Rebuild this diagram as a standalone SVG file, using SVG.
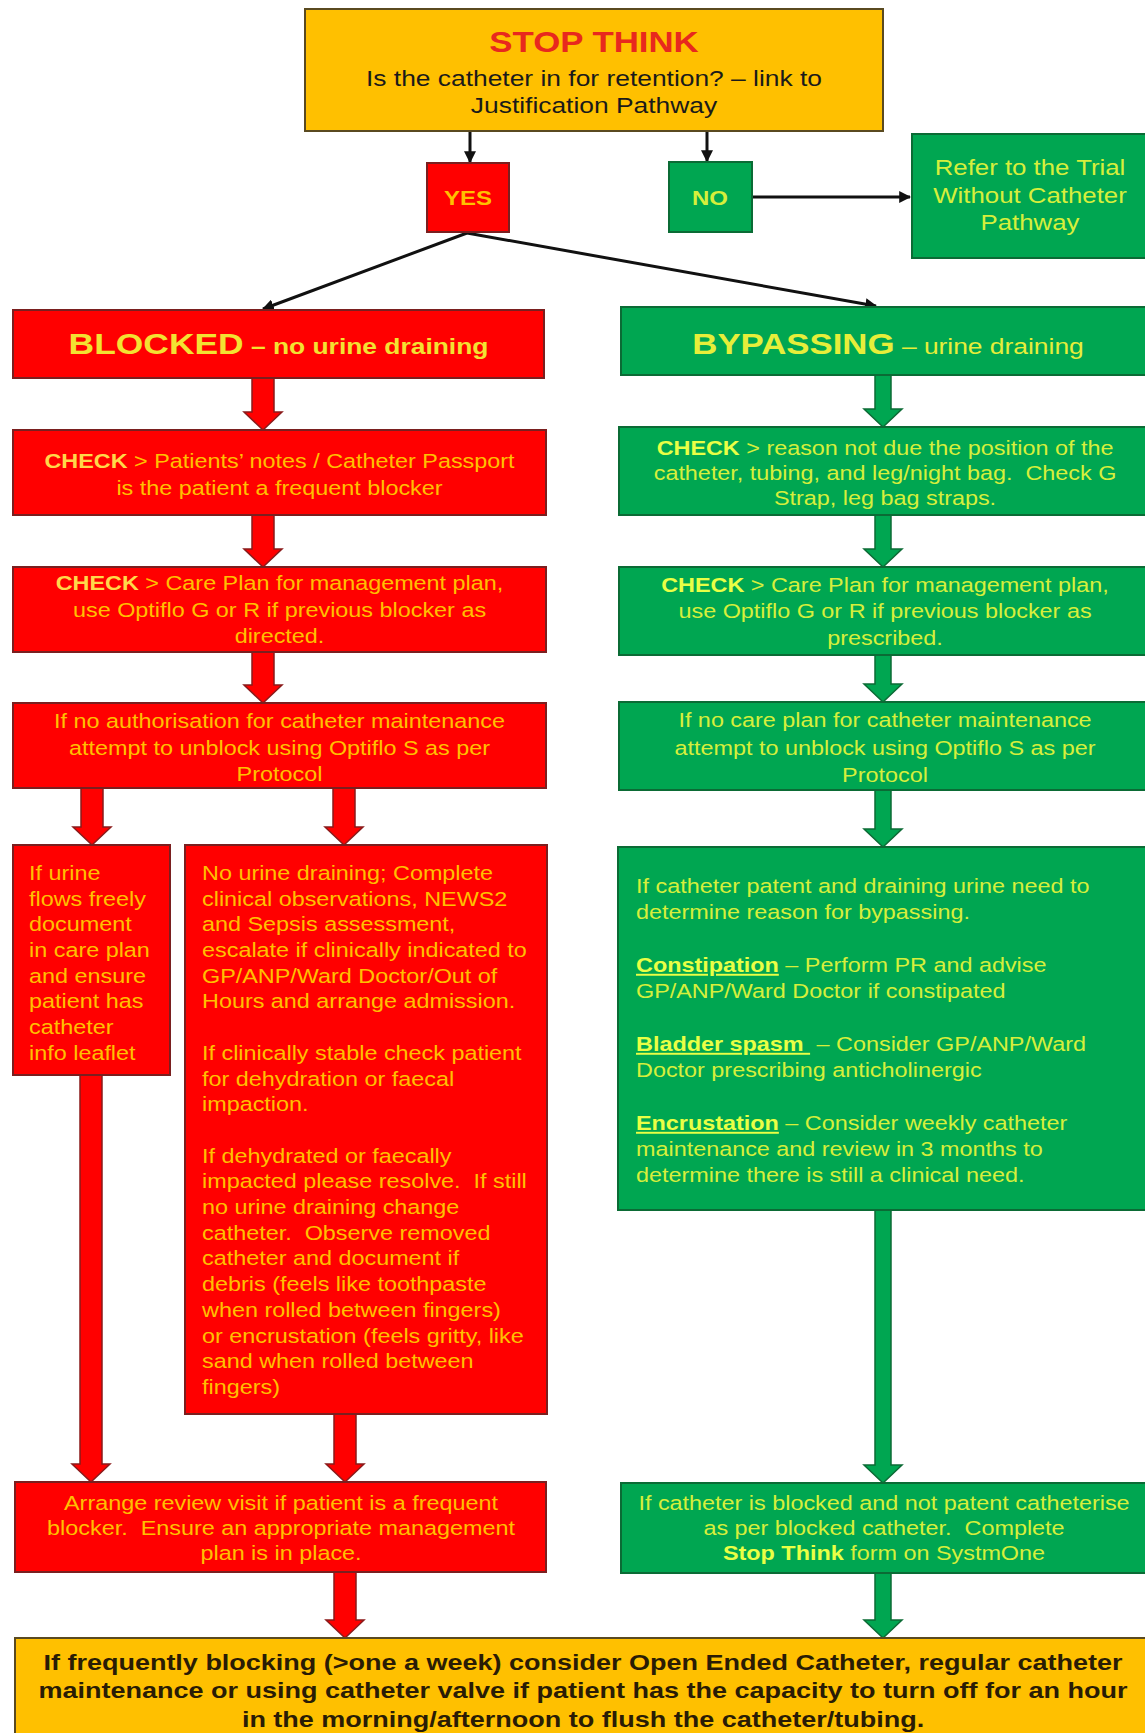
<svg xmlns="http://www.w3.org/2000/svg" width="1145" height="1733" viewBox="0 0 1145 1733">
  <style>
    text { font-family: "Liberation Sans", Arial, sans-serif; }
    .body { font-size: 19.5px; }
    .red { fill: #FF0000; stroke: #7A1F1F; stroke-width: 2; }
    .green { fill: #00A651; stroke: #0B6B35; stroke-width: 2; }
    .amber { fill: #FFC000; stroke: #5A4A20; stroke-width: 2; }
    .onred { fill: #FFC000; }
    .onred .k { fill: #FFD84A; font-weight: bold; }
    .ongreen { fill: #D6EF3C; }
    .ongreen .k { fill: #E9FF45; font-weight: bold; }
    .u { text-decoration: underline; }
    .dark { fill: #2A1C05; }
    .thin { stroke: #111; stroke-width: 3; fill: none; marker-end: url(#tip); }
    .barR { fill: #FF0000; stroke: #8A1A1A; stroke-width: 1.5; }
    .barG { fill: #00A651; stroke: #0B6B35; stroke-width: 1.5; }
  </style>
  <defs>
    <marker id="tip" viewBox="0 0 10 10" refX="9" refY="5" markerWidth="4" markerHeight="4" orient="auto">
      <path d="M0,0 L10,5 L0,10 z" fill="#111"/>
    </marker>
  </defs>
  <rect width="1145" height="1733" fill="#FFFFFF"/>

  <!-- connectors -->
  <g id="connectors">
    <line class="thin" x1="470" y1="131" x2="470" y2="162"/>
    <line class="thin" x1="707" y1="131" x2="707" y2="161"/>
    <line class="thin" x1="752" y1="197" x2="910" y2="197"/>
    <line class="thin" x1="467" y1="233" x2="263" y2="309"/>
    <line class="thin" x1="467" y1="233" x2="876" y2="306"/>
    <!-- red column block arrows -->
    <polygon class="barR" points="252,378 274,378 274,412 282,412 263,430 244,412 252,412"/>
    <polygon class="barR" points="252,515 274,515 274,549 282,549 263,567 244,549 252,549"/>
    <polygon class="barR" points="252,652 274,652 274,685 282,685 263,703 244,685 252,685"/>
    <polygon class="barR" points="81,788 103,788 103,827 111,827 92,845 73,827 81,827"/>
    <polygon class="barR" points="333,788 355,788 355,827 363,827 344,845 325,827 333,827"/>
    <polygon class="barR" points="80,1075 102,1075 102,1464 110,1464 91,1482 72,1464 80,1464"/>
    <polygon class="barR" points="334,1414 356,1414 356,1464 364,1464 345,1482 326,1464 334,1464"/>
    <polygon class="barR" points="334,1572 356,1572 356,1620 364,1620 345,1638 326,1620 334,1620"/>
    <!-- green column block arrows -->
    <polygon class="barG" points="875,375 891,375 891,409 902,409 883,427 864,409 875,409"/>
    <polygon class="barG" points="875,515 891,515 891,549 902,549 883,567 864,549 875,549"/>
    <polygon class="barG" points="875,655 891,655 891,684 902,684 883,702 864,684 875,684"/>
    <polygon class="barG" points="875,790 891,790 891,829 902,829 883,847 864,829 875,829"/>
    <polygon class="barG" points="875,1210 891,1210 891,1465 902,1465 883,1483 864,1465 875,1465"/>
    <polygon class="barG" points="875,1573 891,1573 891,1620 902,1620 883,1638 864,1620 875,1620"/>
  </g>

  <!-- question -->
  <g id="stop-think">
    <rect class="amber" x="305" y="9" width="578" height="122"/>
    <g transform="translate(594 0) scale(1.2 1)">
      <text x="0" y="52" text-anchor="middle" font-size="29" font-weight="bold" fill="#E8281E">STOP THINK</text>
      <text text-anchor="middle" font-size="22" fill="#1A1A1A"><tspan x="0" y="86">Is the catheter in for retention? – link to</tspan><tspan x="0" y="113">Justification Pathway</tspan></text>
    </g>
  </g>

  <g id="yes">
    <rect class="red" x="427" y="163" width="82" height="69"/>
    <g transform="translate(468 0) scale(1.2 1)">
      <text x="0" y="205" text-anchor="middle" font-size="20" font-weight="bold" fill="#FFC000">YES</text>
    </g>
  </g>

  <g id="no">
    <rect class="green" x="669" y="162" width="83" height="70"/>
    <g transform="translate(710 0) scale(1.2 1)">
      <text x="0" y="205" text-anchor="middle" font-size="20" font-weight="bold" fill="#D6EF3C">NO</text>
    </g>
  </g>

  <g id="trial-without-catheter">
    <rect class="green" x="912" y="134" width="240" height="124"/>
    <g transform="translate(1030 0) scale(1.2 1)">
      <text text-anchor="middle" font-size="21.5" fill="#D6EF3C"><tspan x="0" y="175">Refer to the Trial</tspan><tspan x="0" y="203">Without Catheter</tspan><tspan x="0" y="230">Pathway</tspan></text>
    </g>
  </g>

  <!-- blocked branch -->
  <g id="blocked">
    <rect class="red" x="13" y="310" width="531" height="68"/>
    <g transform="translate(278.5 0) scale(1.2 1)">
      <text x="0" y="354" text-anchor="middle" font-weight="bold" fill="#F3E232"><tspan font-size="29.5">BLOCKED</tspan><tspan font-size="22"> – no urine draining</tspan></text>
    </g>
  </g>

  <g id="blocked-check-passport">
    <rect class="red" x="13" y="430" width="533" height="85"/>
    <g transform="translate(279.5 0) scale(1.2 1)">
      <text class="body onred" text-anchor="middle"><tspan x="0" y="468"><tspan class="k">CHECK</tspan> &gt; Patients’ notes / Catheter Passport</tspan><tspan x="0" y="495">is the patient a frequent blocker</tspan></text>
    </g>
  </g>

  <g id="blocked-check-careplan">
    <rect class="red" x="13" y="567" width="533" height="85"/>
    <g transform="translate(279.5 0) scale(1.2 1)">
      <text class="body onred" text-anchor="middle"><tspan x="0" y="590"><tspan class="k">CHECK</tspan> &gt; Care Plan for management plan,</tspan><tspan x="0" y="617">use Optiflo G or R if previous blocker as</tspan><tspan x="0" y="643">directed.</tspan></text>
    </g>
  </g>

  <g id="blocked-unblock">
    <rect class="red" x="13" y="703" width="533" height="85"/>
    <g transform="translate(279.5 0) scale(1.2 1)">
      <text class="body onred" text-anchor="middle"><tspan x="0" y="728">If no authorisation for catheter maintenance</tspan><tspan x="0" y="755">attempt to unblock using Optiflo S as per</tspan><tspan x="0" y="781">Protocol</tspan></text>
    </g>
  </g>

  <g id="blocked-flows">
    <rect class="red" x="13" y="845" width="157" height="230"/>
    <g transform="translate(29 0) scale(1.2 1)">
      <text class="body onred"><tspan x="0" y="880">If urine</tspan><tspan x="0" y="906">flows freely</tspan><tspan x="0" y="931">document</tspan><tspan x="0" y="957">in care plan</tspan><tspan x="0" y="983">and ensure</tspan><tspan x="0" y="1008">patient has</tspan><tspan x="0" y="1034">catheter</tspan><tspan x="0" y="1060">info leaflet</tspan></text>
    </g>
  </g>

  <g id="blocked-no-drain">
    <rect class="red" x="185" y="845" width="362" height="569"/>
    <g transform="translate(202 0) scale(1.2 1)">
      <text class="body onred" xml:space="preserve"><tspan x="0" y="880">No urine draining; Complete</tspan><tspan x="0" y="906">clinical observations, NEWS2</tspan><tspan x="0" y="931">and Sepsis assessment,</tspan><tspan x="0" y="957">escalate if clinically indicated to</tspan><tspan x="0" y="983">GP/ANP/Ward Doctor/Out of</tspan><tspan x="0" y="1008">Hours and arrange admission.</tspan><tspan x="0" y="1060">If clinically stable check patient</tspan><tspan x="0" y="1086">for dehydration or faecal</tspan><tspan x="0" y="1111">impaction.</tspan><tspan x="0" y="1163">If dehydrated or faecally</tspan><tspan x="0" y="1188">impacted please resolve.  If still</tspan><tspan x="0" y="1214">no urine draining change</tspan><tspan x="0" y="1240">catheter.  Observe removed</tspan><tspan x="0" y="1265">catheter and document if</tspan><tspan x="0" y="1291">debris (feels like toothpaste</tspan><tspan x="0" y="1317">when rolled between fingers)</tspan><tspan x="0" y="1343">or encrustation (feels gritty, like</tspan><tspan x="0" y="1368">sand when rolled between</tspan><tspan x="0" y="1394">fingers)</tspan></text>
    </g>
  </g>

  <g id="blocked-review">
    <rect class="red" x="15" y="1482" width="531" height="90"/>
    <g transform="translate(281 0) scale(1.2 1)">
      <text class="body onred" text-anchor="middle" xml:space="preserve"><tspan x="0" y="1510">Arrange review visit if patient is a frequent</tspan><tspan x="0" y="1535">blocker.  Ensure an appropriate management</tspan><tspan x="0" y="1560">plan is in place.</tspan></text>
    </g>
  </g>

  <!-- bypassing branch -->
  <g id="bypassing">
    <rect class="green" x="621" y="307" width="530" height="68"/>
    <g transform="translate(888 0) scale(1.2 1)">
      <text x="0" y="354" text-anchor="middle" fill="#E6EE3A"><tspan font-size="29" font-weight="bold">BYPASSING</tspan><tspan font-size="22"> – urine draining</tspan></text>
    </g>
  </g>

  <g id="bypassing-check-position">
    <rect class="green" x="619" y="427" width="532" height="88"/>
    <g transform="translate(885 0) scale(1.2 1)">
      <text class="body ongreen" text-anchor="middle" xml:space="preserve"><tspan x="0" y="455"><tspan class="k">CHECK</tspan> &gt; reason not due the position of the</tspan><tspan x="0" y="480">catheter, tubing, and leg/night bag.  Check G</tspan><tspan x="0" y="505">Strap, leg bag straps.</tspan></text>
    </g>
  </g>

  <g id="bypassing-check-careplan">
    <rect class="green" x="619" y="567" width="532" height="88"/>
    <g transform="translate(885 0) scale(1.2 1)">
      <text class="body ongreen" text-anchor="middle"><tspan x="0" y="592"><tspan class="k">CHECK</tspan> &gt; Care Plan for management plan,</tspan><tspan x="0" y="618">use Optiflo G or R if previous blocker as</tspan><tspan x="0" y="645">prescribed.</tspan></text>
    </g>
  </g>

  <g id="bypassing-unblock">
    <rect class="green" x="619" y="702" width="532" height="88"/>
    <g transform="translate(885 0) scale(1.2 1)">
      <text class="body ongreen" text-anchor="middle"><tspan x="0" y="727">If no care plan for catheter maintenance</tspan><tspan x="0" y="755">attempt to unblock using Optiflo S as per</tspan><tspan x="0" y="782">Protocol</tspan></text>
    </g>
  </g>

  <g id="bypassing-reasons">
    <rect class="green" x="618" y="847" width="533" height="363"/>
    <g transform="translate(636 0) scale(1.2 1)">
      <text class="body ongreen" xml:space="preserve"><tspan x="0" y="893">If catheter patent and draining urine need to</tspan><tspan x="0" y="919">determine reason for bypassing.</tspan><tspan x="0" y="972"><tspan class="k u">Constipation</tspan> – Perform PR and advise</tspan><tspan x="0" y="998">GP/ANP/Ward Doctor if constipated</tspan><tspan x="0" y="1051"><tspan class="k u">Bladder spasm </tspan> – Consider GP/ANP/Ward</tspan><tspan x="0" y="1077">Doctor prescribing anticholinergic</tspan><tspan x="0" y="1130"><tspan class="k u">Encrustation</tspan> – Consider weekly catheter</tspan><tspan x="0" y="1156">maintenance and review in 3 months to</tspan><tspan x="0" y="1182">determine there is still a clinical need.</tspan></text>
    </g>
  </g>

  <g id="bypassing-blocked">
    <rect class="green" x="621" y="1483" width="530" height="90"/>
    <g transform="translate(884 0) scale(1.2 1)">
      <text class="body ongreen" text-anchor="middle" xml:space="preserve"><tspan x="0" y="1510">If catheter is blocked and not patent catheterise</tspan><tspan x="0" y="1535">as per blocked catheter.  Complete</tspan><tspan x="0" y="1560"><tspan class="k">Stop Think</tspan> form on SystmOne</tspan></text>
    </g>
  </g>

  <!-- shared outcome -->
  <g id="frequent-blocking">
    <rect class="amber" x="15" y="1638" width="1136" height="110"/>
    <g transform="translate(583 0) scale(1.2 1)">
      <text class="dark" text-anchor="middle" font-size="22.5" font-weight="bold"><tspan x="0" y="1670">If frequently blocking (&gt;one a week) consider Open Ended Catheter, regular catheter</tspan><tspan x="0" y="1698">maintenance or using catheter valve if patient has the capacity to turn off for an hour</tspan><tspan x="0" y="1727">in the morning/afternoon to flush the catheter/tubing.</tspan></text>
    </g>
  </g>
</svg>
